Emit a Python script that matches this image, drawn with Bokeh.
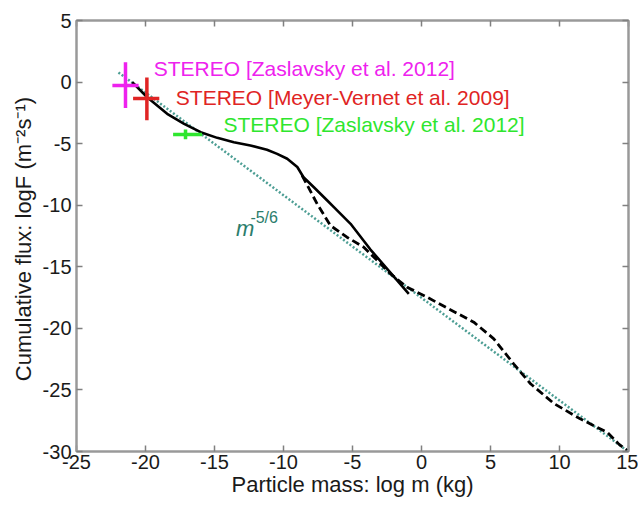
from bokeh.plotting import figure
from bokeh.models import Range1d, FixedTicker, ColumnDataSource, LinearAxis
from bokeh.core.properties import value
from bokeh.embed import file_html
from bokeh.resources import INLINE

# ---- data ----
solid_x = [-20.96, -19.88, -18.43, -17.2, -16.0, -14.8, -13.6, -12.4, -11.2, -10.46, -9.73, -9.0,
           -8.55, -7.8, -6.83, -6.35, -5.14, -3.7, -0.92]
solid_y = [0.0, -1.23, -2.58, -3.39, -4.07, -4.53, -4.88, -5.15, -5.5, -5.83, -6.23, -6.9,
           -7.73, -8.54, -9.62, -10.16, -11.51, -13.6, -17.2]

dash_x = [-8.65, -7.56, -6.6, -5.4, -4.18, -3.2, -2.25, -1.04, 0.41, 1.86, 3.79, 5.24, 6.69, 7.9, 9.59, 11.5, 13.46, 14.3, 14.9]
dash_y = [-7.59, -9.89, -11.65, -12.6, -13.41, -14.5, -15.57, -16.66, -17.47, -18.35, -19.5, -20.85, -22.9, -24.5, -26.1, -27.35, -28.44, -29.4, -29.9]

power_x = [-21.96, 15.0]
power_slope = -5.0 / 6.0
power_y0 = 0.78  # value at first x

obs_x = [-21.45, -19.9, -17.1]
obs_y = [-0.28, -1.33, -4.26]
obs_xlo = [-22.4, -20.9, -18.0]
obs_xhi = [-20.5, -19.0, -15.9]
obs_ylo = [-2.1, -3.1, -4.65]
obs_yhi = [1.6, 0.37, -3.85]
obs_colors = ["#ee22ee", "#e02424", "#2ee62e"]
obs_labels = ["STEREO [Zaslavsky et al. 2012]", "STEREO [Meyer-Vernet et al. 2009]", "STEREO [Zaslavsky et al. 2012]"]
label_x = [-19.4, -17.8, -14.35]
label_y = [1.1, -1.25, -3.45]

x_ticks = [-25, -20, -15, -10, -5, 0, 5, 10, 15]
y_ticks = [5, 0, -5, -10, -15, -20, -25, -30]

FONT = "Liberation Sans"

p = figure(output_backend="svg", toolbar_location=None,
           frame_width=552, frame_height=431,
           min_border_left=76, min_border_top=20, min_border_right=10, min_border_bottom=52,
           x_range=Range1d(-25, 15), y_range=Range1d(-30, 5))
p.background_fill_color = "white"
p.border_fill_color = "white"
p.outline_line_color = "#999999"
p.outline_line_width = 2
p.xgrid.visible = False
p.ygrid.visible = False

top_ax = LinearAxis(ticker=FixedTicker(ticks=x_ticks), major_label_text_font_size="0px",
                    major_label_text_alpha=0)
right_ax = LinearAxis(ticker=FixedTicker(ticks=y_ticks), major_label_text_font_size="0px",
                      major_label_text_alpha=0)
p.add_layout(top_ax, "above")
p.add_layout(right_ax, "right")

for ax in (p.xaxis + p.yaxis):
    ax.axis_line_color = "#999999"
    ax.axis_line_width = 2
    ax.major_tick_line_color = "#808080"
    ax.major_tick_line_width = 1.5
    ax.major_tick_in = 6
    ax.major_tick_out = 0
    ax.minor_tick_line_color = None
    ax.major_label_standoff = 4

for ax in (p.below[0], p.left[0]):
    ax.major_label_text_font = FONT
    ax.major_label_text_font_size = "20px"
    ax.major_label_text_color = "#1a1a1a"
    ax.axis_label_text_font = FONT
    ax.axis_label_text_font_size = "22px"
    ax.axis_label_text_font_style = "normal"
    ax.axis_label_text_color = "#1a1a1a"

top_ax.major_label_standoff = 0
right_ax.major_label_standoff = 0

xa = p.below[0]
ya = p.left[0]
xa.ticker = FixedTicker(ticks=x_ticks)
ya.ticker = FixedTicker(ticks=y_ticks)
xa.major_label_overrides = {t: str(t) for t in x_ticks}
ya.major_label_overrides = {t: str(t) for t in y_ticks}
xa.axis_label = "Particle mass: log m (kg)"
ya.axis_label = "Cumulative flux: logF  (m\u207b\u00b2s\u207b\u00b9)"
xa.major_label_standoff = 3
xa.axis_label_standoff = 0
ya.major_label_standoff = 5
ya.axis_label_standoff = 4

# power law m^-5/6 line
power_yv = [power_y0 + power_slope * (xx - power_x[0]) for xx in power_x]
p.line(power_x, power_yv, line_color="#4d9e94", line_width=2.5, line_dash="2 2")

# curves
p.line(dash_x, dash_y, line_color="black", line_width=2.8, line_dash="8 4")
p.line(solid_x, solid_y, line_color="black", line_width=2.6, line_join="round")

# observations (crosshairs)
src = ColumnDataSource(dict(x=obs_x, y=obs_y, xlo=obs_xlo, xhi=obs_xhi,
                            ylo=obs_ylo, yhi=obs_yhi, c=obs_colors))
p.segment(x0="xlo", y0="y", x1="xhi", y1="y", color="c", line_width=3.5, source=src)
p.segment(x0="x", y0="ylo", x1="x", y1="yhi", color="c", line_width=3.5, source=src)

lsrc = ColumnDataSource(dict(x=label_x, y=label_y, t=obs_labels, c=obs_colors))
p.text(x="x", y="y", text="t", text_color="c", text_font=value(FONT),
       text_font_size="21px", text_baseline="middle", text_align="left", source=lsrc)

# m^-5/6 annotation
p.text(x=[-13.45], y=[-11.9], text=["m"], text_color="#2b7d6c", text_font=value(FONT),
       text_font_size="22px", text_font_style="italic", text_baseline="alphabetic")
p.text(x=[-12.4], y=[-11.0], text=["-5/6"], text_color="#2b7d6c", text_font=value(FONT),
       text_font_size="16px", text_baseline="alphabetic")

open("out.html", "w").write(file_html(p, INLINE))
